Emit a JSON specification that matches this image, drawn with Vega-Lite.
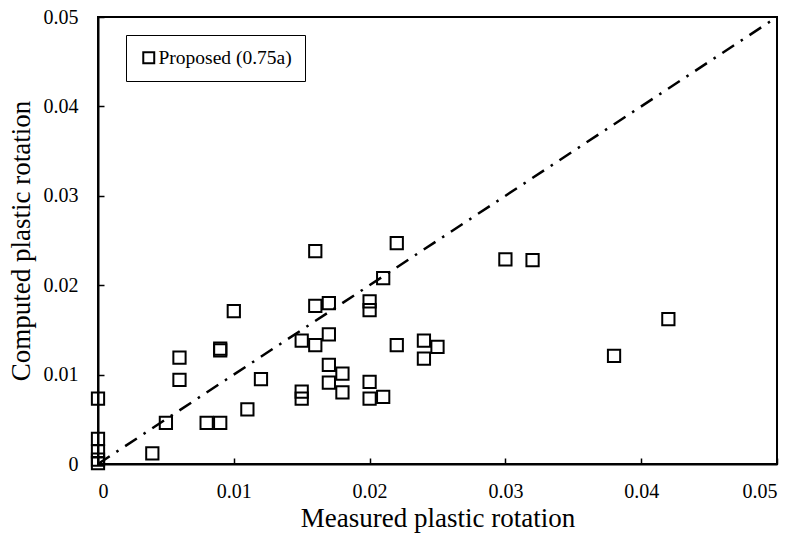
{
  "$schema": "https://vega.github.io/schema/vega-lite/v6.json",
  "width": 679,
  "height": 447,
  "autosize": {"type": "none"},
  "padding": {"left": 98, "top": 17, "right": 18, "bottom": 71},
  "background": "white",
  "config": {
    "view": {"stroke": "black", "strokeWidth": 2},
    "font": "Liberation Serif",
    "axis": {
      "grid": false,
      "domainColor": "black",
      "domainWidth": 2,
      "tickColor": "black",
      "tickWidth": 1.5,
      "tickSize": -6,
      "labelFont": "Liberation Serif",
      "labelFontSize": 20,
      "labelColor": "black",
      "titleFont": "Liberation Serif",
      "titleFontSize": 27,
      "titleFontWeight": "normal",
      "titleColor": "black"
    }
  },
  "datasets": {
    "pts": [
      {"measured": 0, "computed": 0.0073, "series": "Proposed (0.75a)"},
      {"measured": 0, "computed": 0.0028, "series": "Proposed (0.75a)"},
      {"measured": 0, "computed": 0.0014, "series": "Proposed (0.75a)"},
      {"measured": 0, "computed": 0.0005, "series": "Proposed (0.75a)"},
      {"measured": 0, "computed": 0.0001, "series": "Proposed (0.75a)"},
      {"measured": 0.004, "computed": 0.0012, "series": "Proposed (0.75a)"},
      {"measured": 0.005, "computed": 0.0046, "series": "Proposed (0.75a)"},
      {"measured": 0.008, "computed": 0.0046, "series": "Proposed (0.75a)"},
      {"measured": 0.009, "computed": 0.0046, "series": "Proposed (0.75a)"},
      {"measured": 0.006, "computed": 0.0119, "series": "Proposed (0.75a)"},
      {"measured": 0.006, "computed": 0.0094, "series": "Proposed (0.75a)"},
      {"measured": 0.009, "computed": 0.0129, "series": "Proposed (0.75a)"},
      {"measured": 0.009, "computed": 0.0127, "series": "Proposed (0.75a)"},
      {"measured": 0.010, "computed": 0.0171, "series": "Proposed (0.75a)"},
      {"measured": 0.011, "computed": 0.0061, "series": "Proposed (0.75a)"},
      {"measured": 0.012, "computed": 0.0095, "series": "Proposed (0.75a)"},
      {"measured": 0.015, "computed": 0.0138, "series": "Proposed (0.75a)"},
      {"measured": 0.015, "computed": 0.0081, "series": "Proposed (0.75a)"},
      {"measured": 0.015, "computed": 0.0073, "series": "Proposed (0.75a)"},
      {"measured": 0.016, "computed": 0.0238, "series": "Proposed (0.75a)"},
      {"measured": 0.016, "computed": 0.0177, "series": "Proposed (0.75a)"},
      {"measured": 0.016, "computed": 0.0133, "series": "Proposed (0.75a)"},
      {"measured": 0.017, "computed": 0.0180, "series": "Proposed (0.75a)"},
      {"measured": 0.017, "computed": 0.0145, "series": "Proposed (0.75a)"},
      {"measured": 0.017, "computed": 0.0111, "series": "Proposed (0.75a)"},
      {"measured": 0.017, "computed": 0.0091, "series": "Proposed (0.75a)"},
      {"measured": 0.018, "computed": 0.0101, "series": "Proposed (0.75a)"},
      {"measured": 0.018, "computed": 0.0080, "series": "Proposed (0.75a)"},
      {"measured": 0.020, "computed": 0.0182, "series": "Proposed (0.75a)"},
      {"measured": 0.020, "computed": 0.0172, "series": "Proposed (0.75a)"},
      {"measured": 0.020, "computed": 0.0092, "series": "Proposed (0.75a)"},
      {"measured": 0.020, "computed": 0.0073, "series": "Proposed (0.75a)"},
      {"measured": 0.021, "computed": 0.0208, "series": "Proposed (0.75a)"},
      {"measured": 0.021, "computed": 0.0075, "series": "Proposed (0.75a)"},
      {"measured": 0.022, "computed": 0.0247, "series": "Proposed (0.75a)"},
      {"measured": 0.022, "computed": 0.0133, "series": "Proposed (0.75a)"},
      {"measured": 0.024, "computed": 0.0138, "series": "Proposed (0.75a)"},
      {"measured": 0.024, "computed": 0.0118, "series": "Proposed (0.75a)"},
      {"measured": 0.025, "computed": 0.0131, "series": "Proposed (0.75a)"},
      {"measured": 0.030, "computed": 0.0229, "series": "Proposed (0.75a)"},
      {"measured": 0.032, "computed": 0.0228, "series": "Proposed (0.75a)"},
      {"measured": 0.038, "computed": 0.0121, "series": "Proposed (0.75a)"},
      {"measured": 0.042, "computed": 0.0162, "series": "Proposed (0.75a)"}
    ],
    "diag": [
      {"measured": 0, "computed": 0},
      {"measured": 0.05, "computed": 0.05}
    ]
  },
  "layer": [
    {
      "data": {"name": "diag"},
      "mark": {"type": "line", "color": "black", "strokeWidth": 2.5, "strokeDash": [14, 8, 2.5, 8], "clip": true},
      "encoding": {
        "x": {"field": "measured", "type": "quantitative"},
        "y": {"field": "computed", "type": "quantitative"}
      }
    },
    {
      "data": {"name": "pts"},
      "mark": {"type": "point", "shape": "square", "filled": false, "strokeWidth": 2, "size": 150, "opacity": 1},
      "encoding": {
        "x": {
          "field": "measured", "type": "quantitative",
          "scale": {"domain": [0, 0.05], "nice": false, "zero": false},
          "axis": {"title": "Measured plastic rotation", "values": [0, 0.01, 0.02, 0.03, 0.04, 0.05], "format": "~g", "labelPadding": 23, "titlePadding": 4}
        },
        "y": {
          "field": "computed", "type": "quantitative",
          "scale": {"domain": [0, 0.05], "nice": false, "zero": false},
          "axis": {"title": "Computed plastic rotation", "values": [0, 0.01, 0.02, 0.03, 0.04, 0.05], "format": "~g", "labelPadding": 26, "titlePadding": 8}
        },
        "color": {
          "field": "series", "type": "nominal",
          "scale": {"range": ["black"]},
          "legend": {
            "title": null,
            "orient": "none",
            "legendX": 28,
            "legendY": 18,
            "padding": 13,
            "strokeColor": "black",
            "symbolType": "square",
            "symbolSize": 120,
            "symbolStrokeWidth": 2,
            "symbolFillColor": "transparent",
            "symbolStrokeColor": "black",
            "labelFont": "Liberation Serif",
            "labelFontSize": 19.5,
            "labelColor": "black",
            "labelOffset": 0,
            "encode": {"legend": {"update": {"strokeWidth": {"value": 2}}}}
          }
        }
      }
    }
  ]
}
